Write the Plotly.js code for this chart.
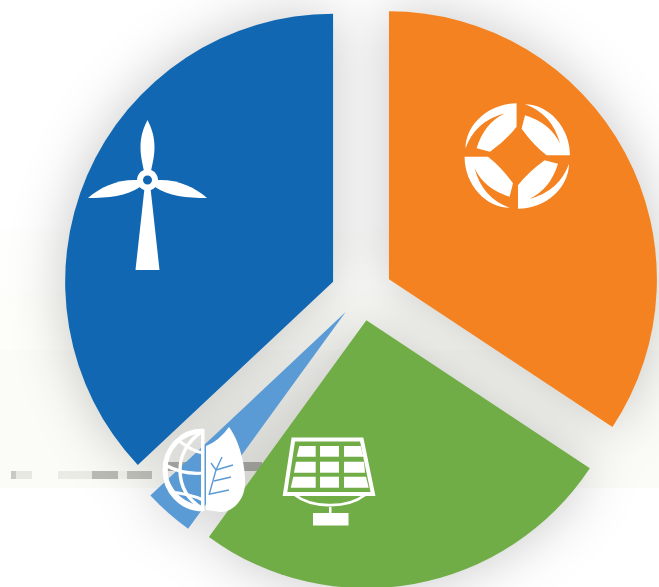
<!DOCTYPE html>
<html>
<head>
<meta charset="utf-8">
<script src="https://cdn.plot.ly/plotly-3.0.1.min.js"></script>
<style>
html,body{margin:0;padding:0;background:#fff;overflow:hidden;width:659px;height:587px}
#chart{position:absolute;left:0;top:-5px}
.pielayer{filter:drop-shadow(0 0 28px rgba(0,0,0,.22))}
</style>
</head>
<body>
<div id="chart"></div>
<script>
// Data
const categories = ['Orange sector','Green sector','Light blue sector','Blue sector'];
const shares = [34.3, 25.7, 3.0, 37.0];
const sectorColors = ['#f58220','#70ad47','#5b9bd5','#1167b1'];
const pulls = [0.116, 0.10, 0.09, 0.116];

const W = 662, H = 598, TOP = -5;
const px = v => v / W, py = v => 1 - (v - TOP) / H;

// Icon paths are written in page pixels and converted to paper units.
function P(cmds){
  return cmds.map(c => {
    if (c === 'Z') return 'Z';
    const [k, ...n] = c;
    const out = [];
    for (let i = 0; i < n.length; i += 2) out.push(px(n[i]).toFixed(5) + ',' + py(n[i+1]).toFixed(5));
    return k + out.join(' ');
  }).join(' ');
}
function fillShape(cmds, color){
  return {type:'path', xref:'paper', yref:'paper', layer:'above', path:P(cmds), fillcolor:color||'#fff', line:{width:0}};
}
function strokeShape(cmds, w, color){
  return {type:'path', xref:'paper', yref:'paper', layer:'above', path:P(cmds), fillcolor:'rgba(0,0,0,0)', line:{color:color||'#fff', width:w}};
}
function circle(cx, cy, r, color){
  const k = 0.5523 * r;
  return fillShape([
    ['M',cx-r,cy],['C',cx-r,cy-k,cx-k,cy-r,cx,cy-r],['C',cx+k,cy-r,cx+r,cy-k,cx+r,cy],
    ['C',cx+r,cy+k,cx+k,cy+r,cx,cy+r],['C',cx-k,cy+r,cx-r,cy+k,cx-r,cy],'Z'], color);
}
function rect(x0,y0,x1,y1,color,layer){
  return {type:'rect', xref:'paper', yref:'paper', layer:layer||'above', x0:px(x0), x1:px(x1), y0:py(y0), y1:py(y1), fillcolor:color, line:{width:0}};
}
function poly(pts,color){
  return fillShape(pts.map((p,i)=>[i?'L':'M',p[0],p[1]]).concat(['Z']),color);
}

const shapes = [];

// faint tinted backdrop and stray grey blocks
shapes.push(rect(0,230,659,290,'#fefefc','below'));
shapes.push(rect(0,290,659,350,'#fdfdfa','below'));
shapes.push(rect(0,350,659,488,'#fbfcf7','below'));
[[11,16,'#c9c8c2'],[16,32,'#e8e8e2'],[58,92,'#ebebe5'],[92,118,'#bcbcb6'],[118,127,'#f4f4ef'],[127,152,'#c4c4be']]
  .forEach(b => shapes.push(rect(b[0],471,b[1],479,b[2],'below')));
shapes.push(rect(168,462,262,471,'#b4b4b0','below'));

// wind turbine
shapes.push(fillShape([['M',147.5,120],['C',151,127,154.5,135,154.5,147],['C',154.5,157,152,165,151,171],['L',144,171],['C',143,165,140.5,157,140.5,147],['C',140.5,135,144,127,147.5,120],'Z']));
shapes.push(fillShape([['M',88,198],['C',100,187,118,179,138,180],['L',140,187],['C',127,196,108,198,88,198],'Z']));
shapes.push(fillShape([['M',207,198],['C',195,187,177,179,157,180],['L',155,187],['C',168,196,187,198,207,198],'Z']));
shapes.push(poly([[144.5,188],[150.5,188],[159.5,270],[135.5,270]]));
shapes.push(circle(147.5,180,10.5));
shapes.push(circle(147.5,180,4.5,'#1167b1'));

// four-leaf ring
const LC = [517.3,156];
const leaf = [['M',-0.7,-52.7],['C',-29,-52.7,-51.7,-31,-51.7,-7.7],['Q',-42,-35,-12.3,-42.7],['Q',-33,-33,-40.7,-7.7],['L',-27.3,-4.3],['Q',-11,-16,-0.7,-29.3],'Z'];
[0,1,2,3].forEach(q => {
  shapes.push(fillShape(leaf.map(c => {
    if (c === 'Z') return c;
    const out = [c[0]];
    for (let i = 1; i < c.length; i += 2) {
      let x = c[i], y = c[i+1];
      for (let r = 0; r < q; r++) { const t = x; x = -y; y = t; }
      out.push(LC[0]+x, LC[1]+y);
    }
    return out;
  })));
});

// solar panel
shapes.push(strokeShape([['M',293.3,439.5],['L',361.7,439.5],['L',373,494],['L',285,494],'Z'],4));
const cy0 = [446,461.7,476.7], cy1 = [456.7,472.7,487.7];
const leftT = [299.3,296,293.3], leftB = [296.7,294,290.7];
const rightT = [360.7,364,366], rightB = [363.3,365,368.7];
[0,1,2].forEach(r => {
  shapes.push(poly([[leftT[r],cy0[r]],[315.7,cy0[r]],[315.7,cy1[r]],[leftB[r],cy1[r]]]));
  shapes.push(rect(320,cy0[r],339,cy1[r],'#fff'));
  shapes.push(poly([[344,cy0[r]],[rightT[r],cy0[r]],[rightB[r],cy1[r]],[344,cy1[r]]]));
});
shapes.push(strokeShape([['M',295,495],['C',310,507,345,510,365,495]],2.8));
shapes.push(rect(329,507,331.5,514,'#fff'));
shapes.push(rect(313,513,348.5,525.5,'#fff'));

// globe half
shapes.push(strokeShape([['M',203,431],['C',181,431,165,449,165,470],['C',165,491,181,509,203,509]],5));
shapes.push(rect(201,429,204.5,511,'#fff'));
shapes.push(strokeShape([['M',203,431],['C',187,441,180,456,180,470],['C',180,486,188,500,203,509]],3.4));
shapes.push(strokeShape([['M',178,440],['C',188,448,196,452,203,453]],3.2));
shapes.push(strokeShape([['M',165,465],['C',178,472,192,474,203,473]],3.2));
shapes.push(strokeShape([['M',170,492],['C',180,493,193,495,203,500]],3.2));
shapes.push(strokeShape([['M',166,480],['C',172,495,182,505,203,509]],5));

// leaf half
shapes.push(fillShape([['M',206,446],['Q',219,441,229,427],['C',238,439,246,463,245,485],['C',244,501,232,512,221,512],['L',206,510],'Z']));
[[[222,457],[216,470],[209,495]],[[216,470],[211,463]],[[216,470],[233,465]],[[214,481],[231,477]],[[210,494],[229,490]]]
  .forEach(seg => shapes.push(strokeShape(seg.map((p,i)=>[i?'L':'M',p[0],p[1]]),1.4,'#5b9bd5')));

const data = [{
  type:'pie', labels:categories, values:shares, sort:false, direction:'clockwise', rotation:0,
  pull:pulls, marker:{colors:sectorColors, line:{width:0}}, textinfo:'none', hoverinfo:'label+percent',
  domain:{x:[61.2/W,1], y:[0,1]}, showlegend:false
}];
const layout = {
  width:W, height:H, margin:{l:0,r:0,t:0,b:0}, paper_bgcolor:'rgba(0,0,0,0)', plot_bgcolor:'rgba(0,0,0,0)',
  showlegend:false, shapes:shapes
};
Plotly.newPlot('chart', data, layout, {displayModeBar:false, responsive:false});
</script>
</body>
</html>
